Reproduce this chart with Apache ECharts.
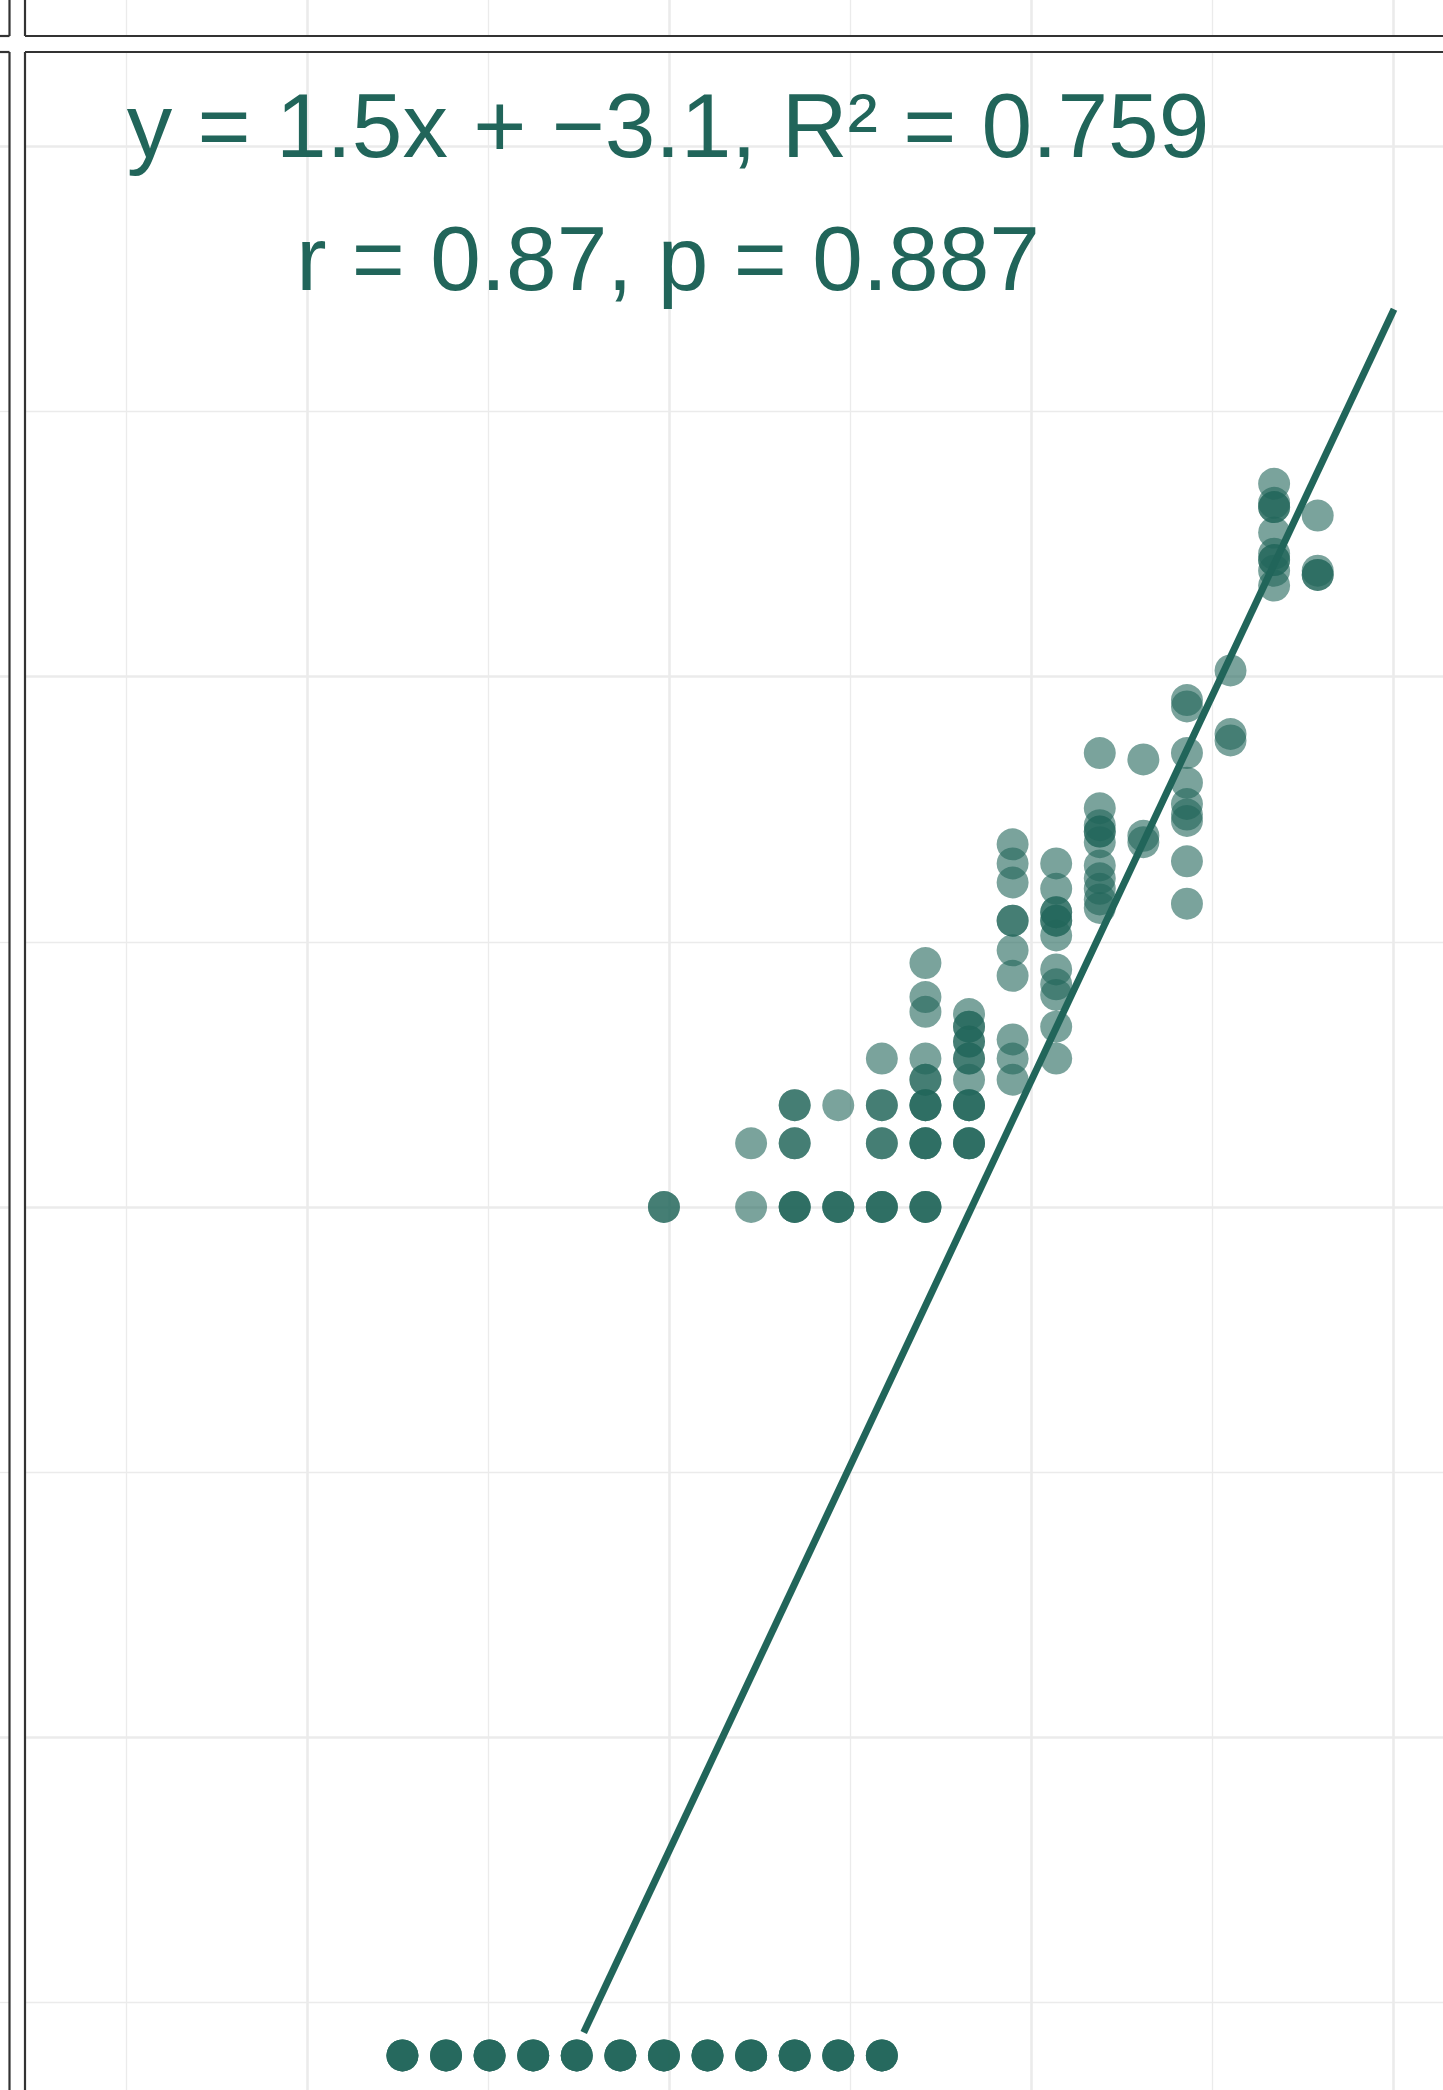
<!DOCTYPE html>
<html><head><meta charset="utf-8">
<script src="https://cdn.jsdelivr.net/npm/echarts@6/dist/echarts.min.js"></script>
<style>html,body{margin:0;padding:0;background:#fff;} #c{width:1443px;height:2090px;}</style>
</head><body><div id="c"></div>
<script>
// ---- data (log10 scale values) ----
const columnX = [-0.035, 0.567, 0.868, 1.169, 1.47, 1.771, 2.072, 2.373, 2.674, 2.975, 3.276, 3.577, 3.878, 4.179, 4.48];
const columnY = [
  [0, 0],
  [0, 0.30],
  [0, 0, 0, 0.30, 0.30, 0.48, 0.48],
  [0, 0, 0, 0.48],
  [0, 0, 0, 0.30, 0.30, 0.48, 0.48, 0.70],
  [0, 0, 0, 0.30, 0.30, 0.30, 0.48, 0.48, 0.48, 0.60, 0.60, 0.70, 0.92, 0.99, 1.15],
  [0.30, 0.30, 0.30, 0.48, 0.48, 0.48, 0.60, 0.70, 0.70, 0.78, 0.78, 0.85, 0.85, 0.91],
  [0.60, 0.70, 0.79, 1.09, 1.21, 1.35, 1.35, 1.53, 1.62, 1.71],
  [0.70, 0.85, 1.00, 1.05, 1.12, 1.28, 1.35, 1.35, 1.39, 1.39, 1.50, 1.62],
  [1.41, 1.45, 1.50, 1.55, 1.61, 1.72, 1.77, 1.77, 1.80, 1.88, 2.14],
  [1.72, 1.75, 2.11],
  [1.43, 1.63, 1.82, 1.85, 1.90, 2.00, 2.14, 2.36, 2.39],
  [2.20, 2.23, 2.53],
  [2.93, 3.00, 3.05, 3.05, 3.08, 3.18, 3.30, 3.30, 3.32, 3.41],
  [2.98, 2.98, 3.00, 3.26]
];
const floorRowX = [-1.841, -1.54, -1.239, -0.938, -0.637, -0.336, -0.035, 0.266, 0.567, 0.868, 1.169, 1.47];
const floorRowY = [-4, -4, -4, -4, -4, -4, -4, -4, -4, -4, -4, -4];
const floorRowRepeat = 4;
const fitX = [-0.589, 5.007];
const fitSlope = 1.452;
const fitIntercept = -3.037;
const xMajorTicks = [-2.5, 0, 2.5, 5];
const xMinorTicks = [-3.75, -1.25, 1.25, 3.75];
const yMajorTicks = [-2.5, 0, 2.5, 5];
const yMinorTicks = [-3.75, -1.25, 1.25, 3.75];
const labelLines = ['y = 1.5x + \u22123.1, R\u00B2 = 0.759', 'r = 0.87, p = 0.887'];

// ---- build ----
const COLOR = '#21655A';
const W = 1443, H = 2090;
const geo = {x0: 669, xs: 144.8, y0: 1207, ys: 212.1, panelL: 25, panelT: 52, stripB: 36, leftR: 9.5};
const xMin = (geo.panelL - geo.x0) / geo.xs, xMax = (W - geo.x0) / geo.xs;
const yMax = (geo.y0 - geo.panelT) / geo.ys, yMin = (geo.y0 - H) / geo.ys;

const pts = [];
columnX.forEach((x, i) => columnY[i].forEach(y => pts.push([x, y])));
floorRowX.forEach((x, i) => { for (let r = 0; r < floorRowRepeat; r++) pts.push([x, floorRowY[i]]); });
const fitData = fitX.map(x => [x, fitSlope * x + fitIntercept]);

const major = {color: '#EBEBEB', width: 2.6, type: 'solid'};
const minor = {color: '#EBEBEB', width: 1.3, type: 'solid'};
function vLines(maj, min) {
  return min.map(v => ({xAxis: v, lineStyle: minor})).concat(maj.map(v => ({xAxis: v, lineStyle: major})));
}
function hLines(maj, min) {
  return min.map(v => ({yAxis: v, lineStyle: minor})).concat(maj.map(v => ({yAxis: v, lineStyle: major})));
}
function gridSeries(xi, yi, data) {
  return {type: 'scatter', xAxisIndex: xi, yAxisIndex: yi, data: [], symbolSize: 0, silent: true, z: 0,
    markLine: {silent: true, z: 0, symbol: ['none', 'none'], label: {show: false}, animation: false,
      emphasis: {disabled: true}, data: data}};
}

const chart = echarts.init(document.getElementById('c'), null, {renderer: 'svg', width: W, height: H});
const border = {stroke: '#333333', lineWidth: 2.2};
function seg(x1, y1, x2, y2) { return {type: 'line', silent: true, z: 100, shape: {x1, y1, x2, y2}, style: border}; }
const font = '91px "Liberation Sans", Arial, sans-serif';
chart.setOption({
  animation: false,
  backgroundColor: '#ffffff',
  grid: [
    {left: geo.panelL, top: geo.panelT, right: 0, bottom: 0},
    {left: geo.panelL, top: 0, right: 0, height: geo.stripB},
    {left: 0, top: geo.panelT, width: geo.leftR, bottom: 0}
  ],
  xAxis: [
    {gridIndex: 0, type: 'value', min: xMin, max: xMax, show: false},
    {gridIndex: 1, type: 'value', min: xMin, max: xMax, show: false},
    {gridIndex: 2, type: 'value', min: 0, max: 1, show: false}
  ],
  yAxis: [
    {gridIndex: 0, type: 'value', min: yMin, max: yMax, show: false},
    {gridIndex: 1, type: 'value', min: 0, max: 1, show: false},
    {gridIndex: 2, type: 'value', min: yMin, max: yMax, show: false}
  ],
  series: [
    gridSeries(0, 0, vLines(xMajorTicks, xMinorTicks).concat(hLines(yMajorTicks, yMinorTicks))),
    gridSeries(1, 1, vLines(xMajorTicks, xMinorTicks)),
    gridSeries(2, 2, hLines(yMajorTicks, yMinorTicks)),
    {type: 'scatter', xAxisIndex: 0, yAxisIndex: 0, data: pts, symbolSize: 32, z: 5,
      itemStyle: {color: COLOR, opacity: 0.6}, silent: true},
    {type: 'line', xAxisIndex: 0, yAxisIndex: 0, data: fitData, showSymbol: false, z: 6, silent: true,
      lineStyle: {color: COLOR, width: 7}}
  ],
  graphic: [
    seg(geo.panelL, geo.panelT, W + 5, geo.panelT),
    seg(geo.panelL, geo.panelT, geo.panelL, H + 5),
    seg(geo.panelL, geo.stripB, W + 5, geo.stripB),
    seg(geo.panelL, -5, geo.panelL, geo.stripB),
    seg(-5, geo.stripB, geo.leftR, geo.stripB),
    seg(geo.leftR, -5, geo.leftR, geo.stripB),
    seg(-5, geo.panelT, geo.leftR, geo.panelT),
    seg(geo.leftR, geo.panelT, geo.leftR, H + 5),
    {type: 'text', z: 50, silent: true, x: 668, y: 125,
      style: {text: labelLines[0], font: font, fill: COLOR, align: 'center', verticalAlign: 'middle', textAlign: 'center', textVerticalAlign: 'middle'}},
    {type: 'text', z: 50, silent: true, x: 668, y: 258,
      style: {text: labelLines[1], font: font, fill: COLOR, align: 'center', verticalAlign: 'middle', textAlign: 'center', textVerticalAlign: 'middle'}}
  ]
});
</script></body></html>
